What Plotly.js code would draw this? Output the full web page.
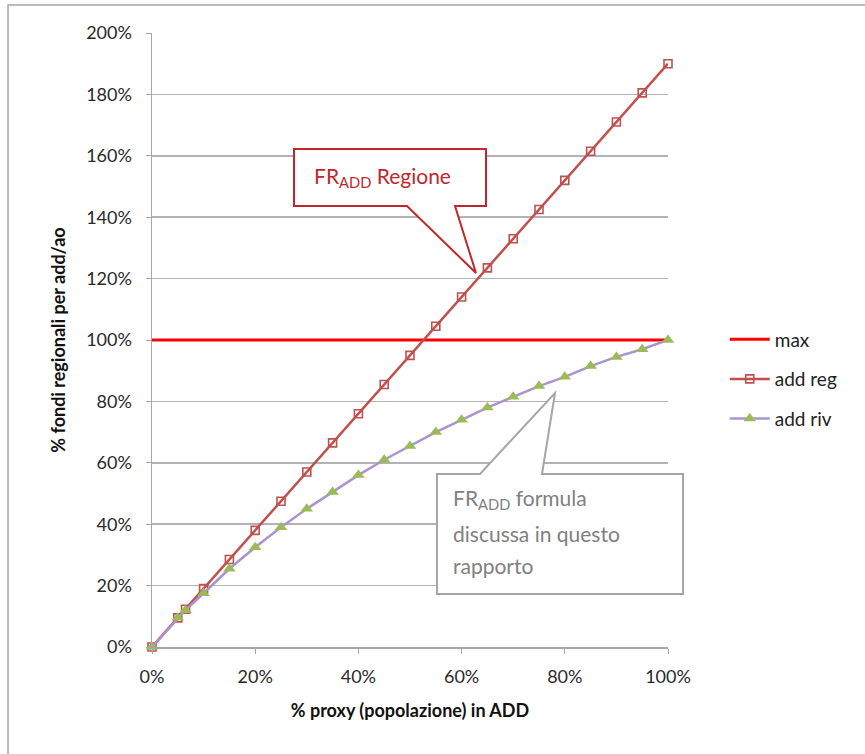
<!DOCTYPE html>
<html>
<head>
<meta charset="utf-8">
<script src="https://cdn.plot.ly/plotly-3.0.1.min.js"></script>
<style>html,body{margin:0;padding:0;background:#fff;}#chart{width:865px;height:754px;}</style>
</head>
<body>
<div id="chart"></div>
<script>
// Data (in %)
const xProxy   = [0, 5, 6.5, 10, 15, 20, 25, 30, 35, 40, 45, 50, 55, 60, 65, 70, 75, 80, 85, 90, 95, 100];
const addReg   = [0, 9.5, 12.3, 19, 28.5, 38, 47.5, 57, 66.5, 76, 85.5, 95, 104.5, 114, 123.5, 133, 142.5, 152, 161.5, 171, 180.5, 190];
const addRiv   = [0, 9.5, 12, 17.5, 25.5, 32.5, 39, 45, 50.5, 56, 61, 65.5, 70, 74, 78, 81.5, 85, 88, 91.5, 94.5, 97, 100];
const maxX     = [0, 100];
const maxY     = [100, 100];
const xTicks   = [0, 20, 40, 60, 80, 100];
const xLabels  = ['0%', '20%', '40%', '60%', '80%', '100%'];
const yTicks   = [0, 20, 40, 60, 80, 100, 120, 140, 160, 180, 200];
const yLabels  = ['0%', '20%', '40%', '60%', '80%', '100%', '120%', '140%', '160%', '180%', '200%'];
const seriesNames = ['max', 'add reg', 'add riv'];

const FONT = 'Lato, "Open Sans", sans-serif';

const traces = [
  {x: maxX, y: maxY, name: seriesNames[0], mode: 'lines', legendgroup: 'a', cliponaxis: false,
   line: {color: '#ff0000', width: 3}},
  {x: xProxy, y: addReg, name: seriesNames[1], mode: 'lines+markers', legendgroup: 'b', cliponaxis: false,
   line: {color: '#c0504d', width: 2.5},
   marker: {symbol: 'square-open', size: 8, color: '#c0504d', line: {width: 1.6, color: '#c0504d'}}},
  {x: xProxy, y: addRiv, name: seriesNames[2], mode: 'lines+markers', legendgroup: 'c', cliponaxis: false,
   line: {color: '#a994cf', width: 2.5},
   marker: {symbol: 'triangle-up', size: 11, color: '#9bbb59'}}
];

const layout = {
  width: 865, height: 754,
  margin: {l: 152, r: 197, t: 33, b: 107},
  paper_bgcolor: '#fff', plot_bgcolor: '#fff',
  font: {family: FONT, size: 18, color: '#333'},
  showlegend: true,
  legend: {x: 1.11, xanchor: 'left', y: 0.532, yanchor: 'top', tracegroupgap: 12,
           font: {family: FONT, size: 19, color: '#222'}, itemwidth: 40, bgcolor: 'rgba(0,0,0,0)'},
  xaxis: {range: [0, 100], tickvals: xTicks, ticktext: xLabels, showgrid: false, zeroline: false,
          showline: true, linecolor: '#a6a6a6', linewidth: 1.5, ticks: 'outside', ticklen: 5,
          tickcolor: '#a6a6a6', ticklabelstandoff: 8, tickfont: {family: FONT, size: 18, color: '#2a2a2a'},
          title: {text: '<b>% proxy (popolazione) in ADD</b>', font: {family: FONT, size: 18, color: '#111'}, standoff: 18}},
  yaxis: {range: [0, 200], tickvals: yTicks, ticktext: yLabels, showgrid: true, gridcolor: '#b3b3b3', gridwidth: 1.5,
          zeroline: false, showline: true, linecolor: '#a6a6a6', linewidth: 1.5, ticks: 'outside', ticklen: 5,
          tickcolor: '#a6a6a6', ticklabelstandoff: 10, tickfont: {family: FONT, size: 18, color: '#2a2a2a'},
          title: {text: '<b>% fondi regionali per add/ao</b>', font: {family: FONT, size: 18, color: '#111'}, standoff: 16}},
  shapes: [
    {type: 'rect', xref: 'paper', yref: 'paper', x0: -0.279, x1: 1.39, y0: -0.19, y1: 1.0456,
     line: {color: '#a6a6a6', width: 1.5}, fillcolor: 'rgba(0,0,0,0)', layer: 'below'},
    {type: 'path', xref: 'paper', yref: 'paper', layer: 'above',
     path: 'M 0.2752 0.8111 L 0.6473 0.8111 L 0.6473 0.7182 L 0.5872 0.7182 L 0.6279 0.6091 L 0.4942 0.7182 L 0.2752 0.7182 Z',
     fillcolor: '#ffffff', line: {color: '#c0272d', width: 2}},
    {type: 'path', xref: 'paper', yref: 'paper', layer: 'above',
     path: 'M 0.5523 0.2818 L 0.6357 0.2818 L 0.7810 0.4137 L 0.7558 0.2818 L 1.0291 0.2818 L 1.0291 0.0863 L 0.5523 0.0863 Z',
     fillcolor: '#ffffff', line: {color: '#a6a6a6', width: 2}}
  ],
  annotations: [
    {xref: 'paper', yref: 'paper', x: 0.3095, y: 0.766, xanchor: 'left', yanchor: 'middle', showarrow: false,
     text: 'FR<sub>ADD</sub> Regione', font: {family: FONT, size: 21, color: '#c0272d'}},
    {xref: 'paper', yref: 'paper', x: 0.5795, y: 0.241, xanchor: 'left', yanchor: 'middle', showarrow: false,
     text: 'FR<sub>ADD</sub> formula', font: {family: FONT, size: 21, color: '#808080'}},
    {xref: 'paper', yref: 'paper', x: 0.5795, y: 0.185, xanchor: 'left', yanchor: 'middle', showarrow: false,
     text: 'discussa in questo', font: {family: FONT, size: 21, color: '#808080'}},
    {xref: 'paper', yref: 'paper', x: 0.5795, y: 0.132, xanchor: 'left', yanchor: 'middle', showarrow: false,
     text: 'rapporto', font: {family: FONT, size: 21, color: '#808080'}}
  ]
};

Plotly.newPlot('chart', traces, layout, {displayModeBar: false, staticPlot: true});
</script>
</body>
</html>
